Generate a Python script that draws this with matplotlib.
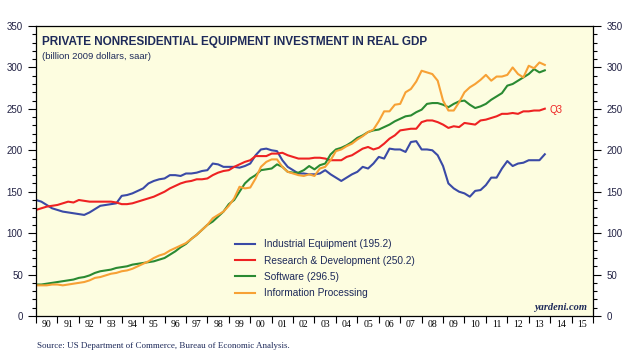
import numpy as np
import matplotlib.pyplot as plt
from matplotlib.ticker import MultipleLocator, FixedLocator, NullFormatter

# quarterly data, 1990Q1 .. 2013Q4 positions (last point = 2013Q3 value)
years = np.arange(1990.0, 2014.0, 0.25)

industrial = [140, 138, 134, 130, 128, 126, 125, 124, 123, 122, 125, 129,
              133, 134, 135, 136, 145, 146, 148, 151, 154, 160, 163, 165,
              166, 170, 170, 169, 172, 172, 173, 175, 176, 184, 183, 180,
              180, 180, 179, 181, 184, 194, 201, 202, 200, 199, 188, 180,
              176, 172, 172, 171, 171, 172, 176, 171, 167, 163, 167, 171,
              174, 180, 178, 184, 192, 190, 202, 201, 201, 198, 210, 211,
              201, 201, 200, 194, 181, 160, 154, 150, 148, 144, 151, 152,
              158, 167, 167, 178, 187, 181, 184, 185, 188, 188, 188, 195.2]

research = [128, 130, 132, 133, 134, 136, 138, 137, 140, 139, 138, 138,
            138, 138, 138, 137, 135, 135, 136, 138, 140, 142, 144, 147,
            150, 154, 157, 160, 162, 163, 165, 165, 166, 170, 173, 175,
            176, 180, 183, 186, 188, 193, 193, 193, 196, 196, 197, 194,
            192, 190, 190, 190, 191, 191, 190, 188, 188, 188, 192, 194,
            198, 202, 204, 201, 203, 208, 214, 218, 224, 225, 226, 226,
            234, 236, 236, 234, 231, 227, 229, 228, 233, 232, 231, 236,
            237, 239, 241, 244, 244, 245, 244, 247, 247, 248, 248, 250.2]

software = [38, 38, 39, 40, 41, 42, 43, 44, 46, 47, 49, 52,
            54, 55, 56, 58, 59, 60, 62, 63, 64, 65, 66, 68,
            70, 74, 78, 83, 87, 93, 98, 104, 110, 114, 120, 126,
            135, 140, 150, 160, 166, 170, 176, 177, 178, 183, 180, 174,
            173, 173, 176, 181, 177, 182, 184, 195, 201, 203, 206, 210,
            215, 218, 222, 224, 225, 228, 231, 235, 238, 241, 242, 246,
            249, 256, 257, 257, 255, 252, 256, 259, 260, 255, 251, 253,
            256, 261, 265, 269, 278, 280, 284, 288, 292, 298, 294, 296.5]

info_proc = [37, 37, 37, 38, 38, 37, 38, 39, 40, 41, 43, 46,
             47, 49, 51, 52, 54, 55, 57, 60, 63, 66, 70, 73,
             75, 79, 82, 85, 88, 93, 98, 104, 110, 118, 122, 126,
             133, 142, 156, 154, 155, 166, 180, 186, 189, 189, 180, 174,
             172, 170, 169, 171, 169, 178, 180, 188, 199, 201, 205, 208,
             213, 217, 222, 225, 235, 247, 247, 255, 256, 270, 274, 283,
             296, 294, 292, 284, 260, 248, 248, 258, 270, 276, 280, 285,
             291, 284, 289, 289, 291, 300, 292, 288, 302, 299, 306, 303]

labels = ['Industrial Equipment (195.2)', 'Research & Development (250.2)',
          'Software (296.5)', 'Information Processing']
colors = ['#3a4aa6', '#ee2222', '#2a8a32', '#f7a135']
year_labels = ['%02d' % (y % 100) for y in range(1990, 2016)]

fig = plt.figure(figsize=(6.4, 3.6), dpi=100)
ax = fig.add_axes([36 / 640, 44 / 360, 557 / 640, 290 / 360])
ax.set_facecolor('#fdfde0')

for data, lab, col in zip([industrial, research, software, info_proc], labels, colors):
    ax.plot(years, data, color=col, lw=1.5, label=lab)

ax.set_xlim(1990, 2016)
ax.set_ylim(0, 350)

# y axis both sides
ax.yaxis.set_major_locator(MultipleLocator(50))
ax.yaxis.set_minor_locator(MultipleLocator(10))
ax.tick_params(axis='y', which='both', direction='out', left=True, right=True,
               labelleft=True, labelright=True, labelsize=7, colors='#222244')
ax.tick_params(axis='y', which='major', length=6, width=0.8, color='black')
ax.tick_params(axis='y', which='minor', length=3, width=0.8, color='black')
for t in ax.get_yticklabels():
    t.set_family('Liberation Sans')

# x axis: ticks at year boundaries, labels at mid-year
ax.xaxis.set_major_locator(FixedLocator(np.arange(1990, 2017)))
ax.xaxis.set_major_formatter(NullFormatter())
ax.xaxis.set_minor_locator(FixedLocator(np.arange(1990, 2016) + 0.5))
ax.set_xticklabels(year_labels, minor=True, fontfamily='Liberation Serif', fontsize=7)
ax.tick_params(axis='x', which='major', direction='out', length=5, width=0.8)
ax.tick_params(axis='x', which='minor', length=0, pad=3)

for s in ax.spines.values():
    s.set_linewidth(0.9)

ax.text(0.011, 0.965, 'PRIVATE NONRESIDENTIAL EQUIPMENT INVESTMENT IN REAL GDP',
        transform=ax.transAxes, fontsize=8.5, fontweight='bold', color='#1e2a5a',
        family='Liberation Sans', va='top')
ax.text(0.011, 0.91, '(billion 2009 dollars, saar)', transform=ax.transAxes,
        fontsize=6.8, color='#1e2a5a', family='Liberation Sans', va='top')

ax.text(years[-1] + 0.2, research[-1] - 1, 'Q3', color='#ee2222', fontsize=7,
        family='Liberation Sans', va='center')

ax.text(0.99, 0.015, 'yardeni.com', transform=ax.transAxes, ha='right', va='bottom',
        fontsize=7.5, fontstyle='italic', fontweight='bold', family='Liberation Serif',
        color='#1e2a5a')

leg = ax.legend(loc='lower left', bbox_to_anchor=(0.34, 0.03), frameon=False,
                prop={'family': 'Liberation Sans', 'size': 7.3}, handlelength=2.0,
                labelspacing=0.62, handletextpad=0.9)
for t in leg.get_texts():
    t.set_color('#1e2a5a')

fig.text(37 / 640, 1 - 346 / 360, 'Source: US Department of Commerce, Bureau of Economic Analysis.',
         family='Liberation Serif', fontsize=6.5, color='#1e2a5a', va='center')

fig.savefig('out.png', dpi=100)
